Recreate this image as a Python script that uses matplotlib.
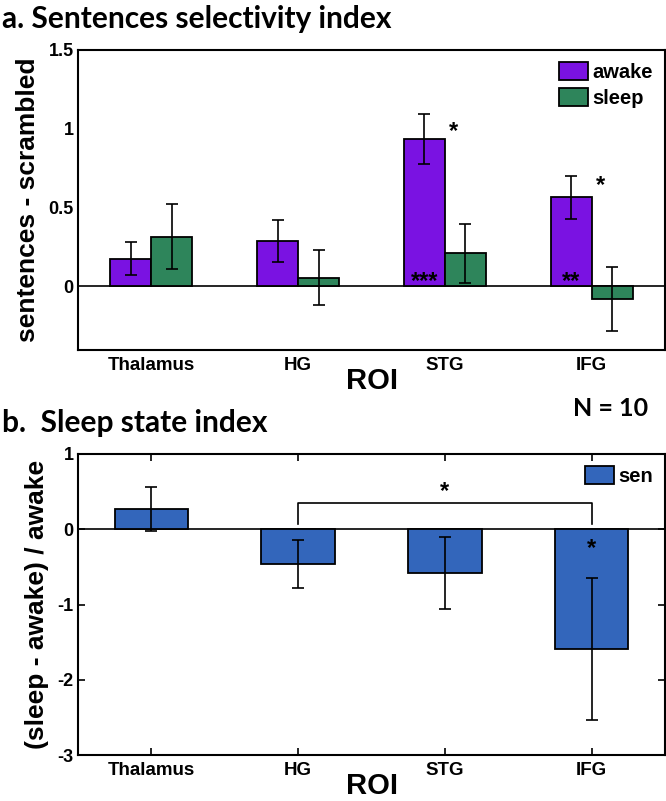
import matplotlib.pyplot as plt
import numpy as np

# panel a: sentences - scrambled
rois = ['Thalamus', 'HG', 'STG', 'IFG']
awake = [0.176, 0.286, 0.932, 0.564]
awake_err = [0.105, 0.132, 0.159, 0.136]
sleep = [0.314, 0.055, 0.208, -0.080]
sleep_err = [0.207, 0.176, 0.186, 0.205]

# panel b: (sleep - awake) / awake
sen = [0.27, -0.466, -0.585, -1.592]
sen_err = [0.29, 0.32, 0.48, 0.94]

purple = '#7A12E2'
green = '#2E855B'
blue = '#3366BB'
tickfont = dict(family=['Liberation Sans', 'DejaVu Sans'], weight='bold')
titlefont = dict(family=['Lato', 'DejaVu Sans'], weight='bold')

W, H = 666, 801
fig = plt.figure(figsize=(W / 100, H / 100), dpi=100)
x = np.arange(1, 5)


def setup(ax, ylim, yticks, ylabels, ticklen):
    ax.set_xlim(0.5, 4.5)
    ax.set_ylim(*ylim)
    ax.axhline(0, color='black', lw=1.2, zorder=1)
    ax.set_xticks(x)
    ax.set_xticklabels(rois, fontsize=13.5, **tickfont)
    ax.set_yticks(yticks)
    ax.set_yticklabels(ylabels, fontsize=13, **tickfont)
    ax.tick_params(direction='in', length=ticklen, width=1.2, top=True, right=True)
    ax.tick_params(axis='x', pad=5)
    ax.tick_params(axis='y', pad=3)
    for s in ax.spines.values():
        s.set_linewidth(1.5)
    ax.set_xlabel('ROI', fontsize=21, labelpad=-5, **tickfont)


legprop = dict(size=14.5, family=tickfont['family'], weight='bold')
legkw = dict(loc='upper right', prop=legprop, frameon=False, handlelength=1.45,
             handleheight=1.0, handletextpad=0.2, labelspacing=0.3,
             borderaxespad=0.3, borderpad=0.3)
eb = dict(ecolor='black', capsize=4, error_kw=dict(elinewidth=1.2, capthick=1.2))

# ---- a ----
ax1 = fig.add_axes([78 / W, 1 - 350 / H, 587 / W, 300 / H])
bw = 0.28
ax1.bar(x - bw / 2, awake, bw, yerr=awake_err, color=purple, edgecolor='black',
        linewidth=1.3, label='awake', zorder=2, **eb)
ax1.bar(x + bw / 2, sleep, bw, yerr=sleep_err, color=green, edgecolor='black',
        linewidth=1.3, label='sleep', zorder=2, **eb)
setup(ax1, (-0.405, 1.5), [0, 0.5, 1, 1.5], ['0', '0.5', '1', '1.5'], 0)
ax1.set_ylabel('sentences - scrambled', fontsize=19, labelpad=6, **tickfont)
ax1.text(3.06, 0.98, '*', fontsize=17, ha='center', va='center', **tickfont)
ax1.text(4.06, 0.64, '*', fontsize=17, ha='center', va='center', **tickfont)
ax1.text(2.86, 0.03, '***', fontsize=17, ha='center', va='center', **tickfont)
ax1.text(3.86, 0.03, '**', fontsize=17, ha='center', va='center', **tickfont)
ax1.legend(**legkw)

# ---- b ----
ax2 = fig.add_axes([78 / W, 1 - 755 / H, 587 / W, 301 / H])
ax2.bar(x, sen, 0.5, yerr=sen_err, color=blue, edgecolor='black', linewidth=1.3,
        label='sen', zorder=2, **eb)
setup(ax2, (-3, 1), [-3, -2, -1, 0, 1], ['-3', '-2', '-1', '0', '1'], 5)
ax2.set_ylabel('(sleep - awake) / awake', fontsize=19, labelpad=6, **tickfont)
ax2.plot([2, 2, 4, 4], [0.07, 0.35, 0.35, 0.07], color='black', lw=1.2)
ax2.text(3, 0.50, '*', fontsize=17, ha='center', va='center', **tickfont)
ax2.text(4, -0.25, '*', fontsize=17, ha='center', va='center', **tickfont)
ax2.legend(**legkw)

fig.text(2 / W, 1 - 19 / H, 'a. Sentences selectivity index', fontsize=21.5,
         ha='left', va='center', **titlefont)
fig.text(2 / W, 1 - 423 / H, 'b.  Sleep state index', fontsize=21.5,
         ha='left', va='center', **titlefont)
fig.text(611 / W, 1 - 408 / H, 'N = 10', fontsize=18, ha='center', va='center', **titlefont)

fig.savefig('out.png', dpi=100)
